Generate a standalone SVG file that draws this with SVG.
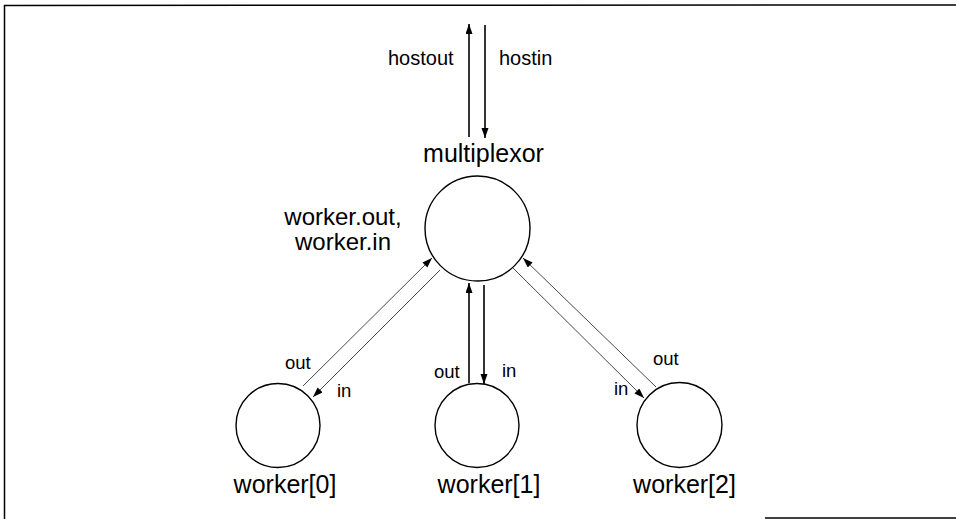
<svg xmlns="http://www.w3.org/2000/svg" width="956" height="519" viewBox="0 0 956 519">
<style>
  text { font-family: "Liberation Sans", Arial, sans-serif; fill: #000; }
  .big { font-size: 25px; }
  .two { font-size: 24px; }
  .host { font-size: 20px; }
  .small { font-size: 18.5px; }
  .node { fill: #fff; stroke: #000; stroke-width: 1.4; }
  .thick { stroke: #000; stroke-width: 1.6; fill: none; }
  .thin { stroke: #333; stroke-width: 0.9; fill: none; }
  .frame { stroke: #000; stroke-width: 1.5; fill: none; }
</style>
<defs>
  <marker id="ah" markerUnits="userSpaceOnUse" markerWidth="11" markerHeight="8" refX="10" refY="3.5" orient="auto">
    <path d="M0,0 L10,3.5 L0,7 z" fill="#000"/>
  </marker>
</defs>
<rect width="956" height="519" fill="#fff"/>
<g id="frame">
  <path class="frame" d="M4.5,519 L4.5,5.5 L956,5"/>
  <path class="frame" d="M765,518 L956,518"/>
</g>
<g id="connectors">
  <line class="thick" x1="469" y1="137" x2="469" y2="24" marker-end="url(#ah)"/>
  <line class="thick" x1="485" y1="25" x2="485" y2="138" marker-end="url(#ah)"/>
  <line class="thin" x1="303" y1="386" x2="432" y2="258" marker-end="url(#ah)"/>
  <line class="thin" x1="440" y1="270" x2="313" y2="397" marker-end="url(#ah)"/>
  <line class="thick" x1="469" y1="383" x2="469" y2="283" marker-end="url(#ah)"/>
  <line class="thick" x1="484" y1="285" x2="484" y2="384" marker-end="url(#ah)"/>
  <line class="thin" x1="656" y1="387" x2="523" y2="258" marker-end="url(#ah)"/>
  <line class="thin" x1="513" y1="268" x2="644" y2="398" marker-end="url(#ah)"/>
  <text class="host" x="388" y="65">hostout</text>
  <text class="host" x="499" y="65">hostin</text>
  <text class="small" x="285" y="369">out</text>
  <text class="small" x="337" y="397">in</text>
  <text class="small" x="434" y="378">out</text>
  <text class="small" x="502" y="377">in</text>
  <text class="small" x="653" y="365">out</text>
  <text class="small" x="614" y="395">in</text>
</g>
<g id="multiplexor">
  <circle class="node" cx="477.5" cy="228.5" r="52.5"/>
  <text class="big" x="483.5" y="162" text-anchor="middle">multiplexor</text>
  <text class="two" x="343" y="225" text-anchor="middle">worker.out,</text>
  <text class="two" x="343" y="250" text-anchor="middle">worker.in</text>
</g>
<g id="worker0">
  <circle class="node" cx="278" cy="425.5" r="42"/>
  <text class="big" x="285" y="493" text-anchor="middle">worker[0]</text>
</g>
<g id="worker1">
  <circle class="node" cx="477" cy="425.5" r="42"/>
  <text class="big" x="489" y="493" text-anchor="middle">worker[1]</text>
</g>
<g id="worker2">
  <circle class="node" cx="679.5" cy="425" r="42.5"/>
  <text class="big" x="684.5" y="493" text-anchor="middle">worker[2]</text>
</g>
</svg>
